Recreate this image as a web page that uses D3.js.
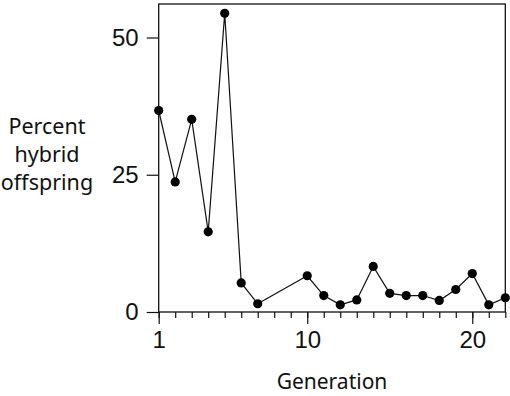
<!DOCTYPE html>
<html>
<head>
<meta charset="utf-8">
<script src="https://cdn.jsdelivr.net/npm/d3@7"></script>
<style>
body { margin: 0; background: #fff; }
svg { display: block; }
.tick text { font-family: "Liberation Sans Narrow", "Liberation Sans", Arial, sans-serif; }
.title { font-family: "Noto Sans", sans-serif; fill: #111; }
</style>
</head>
<body>
<svg></svg>
<script>
var svgWidth = 510;
var svgHeight = 396;

var generations = [1, 2, 3, 4, 5, 6, 7, 10, 11, 12, 13, 14, 15, 16, 17, 18, 19, 20, 21, 22];
var percentHybrid = [36.7, 23.7, 35.1, 14.6, 54.4, 5.3, 1.5, 6.6, 3.0, 1.3, 2.2, 8.3, 3.4, 3.0, 3.0, 2.1, 4.1, 7.0, 1.3, 2.6];
var yTicks = [0, 25, 50];
var xTicks = [1, 10, 20];

var plotLeft = 158.7, plotRight = 505.3, plotTop = 4, plotBottom = 312;

var svg = d3.select('svg')
    .attr("width", svgWidth)
    .attr("height", svgHeight);

var x = d3.scaleLinear().domain([1, 22]).range([plotLeft, plotRight]);
var y = d3.scaleLinear().domain([0, 56.1]).range([plotBottom, plotTop]);

// frame
svg.append("rect")
    .attr("x", plotLeft).attr("y", plotTop)
    .attr("width", plotRight - plotLeft).attr("height", plotBottom - plotTop)
    .attr("fill", "none").attr("stroke", "#111").attr("stroke-width", 1.3);

// minor x ticks
svg.append("g")
    .attr("transform", "translate(0," + plotBottom + ")")
    .call(d3.axisBottom(x).tickValues(d3.range(1, 23)).tickSize(6).tickFormat(""))
    .call(function(g) { g.select(".domain").remove(); })
    .selectAll("line").attr("stroke", "#111").attr("stroke-width", 1.2);

// major x ticks
var xa = svg.append("g")
    .attr("transform", "translate(0," + plotBottom + ")")
    .call(d3.axisBottom(x).tickValues(xTicks).tickSize(12).tickPadding(7));
xa.select(".domain").remove();
xa.selectAll("line").attr("stroke", "#111").attr("stroke-width", 1.2);
xa.selectAll("text").attr("font-size", 24).attr("fill", "#111");

var ya = svg.append("g")
    .attr("transform", "translate(" + plotLeft + ",0)")
    .call(d3.axisLeft(y).tickValues(yTicks).tickSize(12).tickPadding(8));
ya.select(".domain").remove();
ya.selectAll("line").attr("stroke", "#111").attr("stroke-width", 1.2);
ya.selectAll("text").attr("font-size", 24).attr("fill", "#111");

var points = generations.map(function(g, i) { return [g, percentHybrid[i]]; });

svg.append("path")
    .datum(points)
    .attr("fill", "none")
    .attr("stroke", "#111")
    .attr("stroke-width", 1.2)
    .attr("d", d3.line().x(function(d) { return x(d[0]); }).y(function(d) { return y(d[1]); }));

svg.selectAll("circle")
    .data(points)
    .enter()
    .append("circle")
    .attr("cx", function(d) { return x(d[0]); })
    .attr("cy", function(d) { return y(d[1]); })
    .attr("r", 4.6)
    .attr("fill", "#000");

svg.append("text")
    .attr("class", "title")
    .attr("x", (plotLeft + plotRight) / 2)
    .attr("y", 389)
    .attr("text-anchor", "middle")
    .attr("font-size", 21)
    .text("Generation");

var ylab = svg.append("text")
    .attr("class", "title")
    .attr("text-anchor", "middle")
    .attr("font-size", 21.5);
["Percent", "hybrid", "offspring"].forEach(function(t, i) {
    ylab.append("tspan").attr("x", 47).attr("y", 134 + i * 28).text(t);
});
</script>
</body>
</html>
